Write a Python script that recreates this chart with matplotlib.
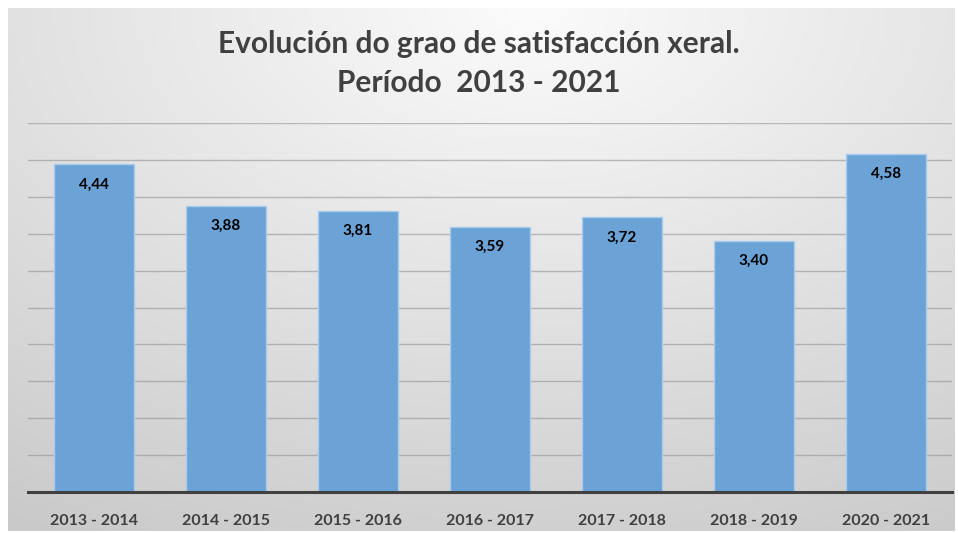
import numpy as np
import matplotlib.pyplot as plt
from matplotlib.colors import LinearSegmentedColormap

periodos = ["2013 - 2014", "2014 - 2015", "2015 - 2016", "2016 - 2017",
            "2017 - 2018", "2018 - 2019", "2020 - 2021"]
valores = [4.44, 3.88, 3.81, 3.59, 3.72, 3.40, 4.58]
etiquetas = ["4,44", "3,88", "3,81", "3,59", "3,72", "3,40", "4,58"]

W, H = 958, 533
fig = plt.figure(figsize=(W / 100, H / 100), dpi=100, facecolor="white")
plt.rcParams['font.family'] = ['Lato', 'DejaVu Sans']

# fondo con degradado (caixa do gráfico)
bx0, by0, bx1, by1 = 8, 8, 955, 531
bg = fig.add_axes([bx0 / W, 1 - by1 / H, (bx1 - bx0) / W, (by1 - by0) / H])
yy, xx = np.mgrid[0:1:300j, 0:1:500j]
r = np.sqrt(((xx - 0.55) * 1.0) ** 2 + (yy * 0.9) ** 2)
cmap = LinearSegmentedColormap.from_list("g", ["#fbfbfb", "#e2e2e2", "#c9c9c9"])
bg.imshow(r, cmap=cmap, aspect="auto", extent=[0, 1, 1, 0], vmin=0, vmax=1.05)
bg.axis("off")

# área do gráfico
px0, py0, px1, py1 = 28, 123, 952, 492
ax = fig.add_axes([px0 / W, 1 - py1 / H, (px1 - px0) / W, (py1 - py0) / H])
ax.patch.set_alpha(0)
x = np.arange(len(periodos))
bars = ax.bar(x, valores, width=0.6, color="#6ca3d6", edgecolor="#a9cbec",
              linewidth=1.0, zorder=3)
ax.set_xlim(-0.5, len(periodos) - 0.5)
ax.set_ylim(0, 5)
ax.set_yticks(np.arange(0.5, 5.01, 0.5))
ax.yaxis.grid(True, color="#8c8c8c", linewidth=1.0, alpha=0.55, zorder=0)
ax.tick_params(axis="y", left=False, labelleft=False)
ax.tick_params(axis="x", bottom=False, pad=12)
ax.set_xticks(x)
ax.set_xticklabels(periodos, fontsize=11.5, fontweight="bold", color="#404040")
for s in ["top", "right", "left"]:
    ax.spines[s].set_visible(False)
ax.spines["bottom"].set_color("#404040")
ax.spines["bottom"].set_linewidth(2.2)
ax.spines["bottom"].set_zorder(4)

for xi, v, lab in zip(x, valores, etiquetas):
    ax.annotate(lab, (xi, v), xytext=(0, -14.5), textcoords="offset points",
                ha="center", va="center", fontsize=11, fontweight="bold",
                color="black", zorder=5)

fig.text(0.5, 1 - 44 / H, "Evolución do grao de satisfacción xeral.",
         ha="center", va="center", fontsize=21.5, fontweight="bold", color="#404040")
fig.text(0.5, 1 - 83 / H, "Período  2013 - 2021",
         ha="center", va="center", fontsize=21.5, fontweight="bold", color="#404040")

fig.savefig("out.png", dpi=100, facecolor="white")
